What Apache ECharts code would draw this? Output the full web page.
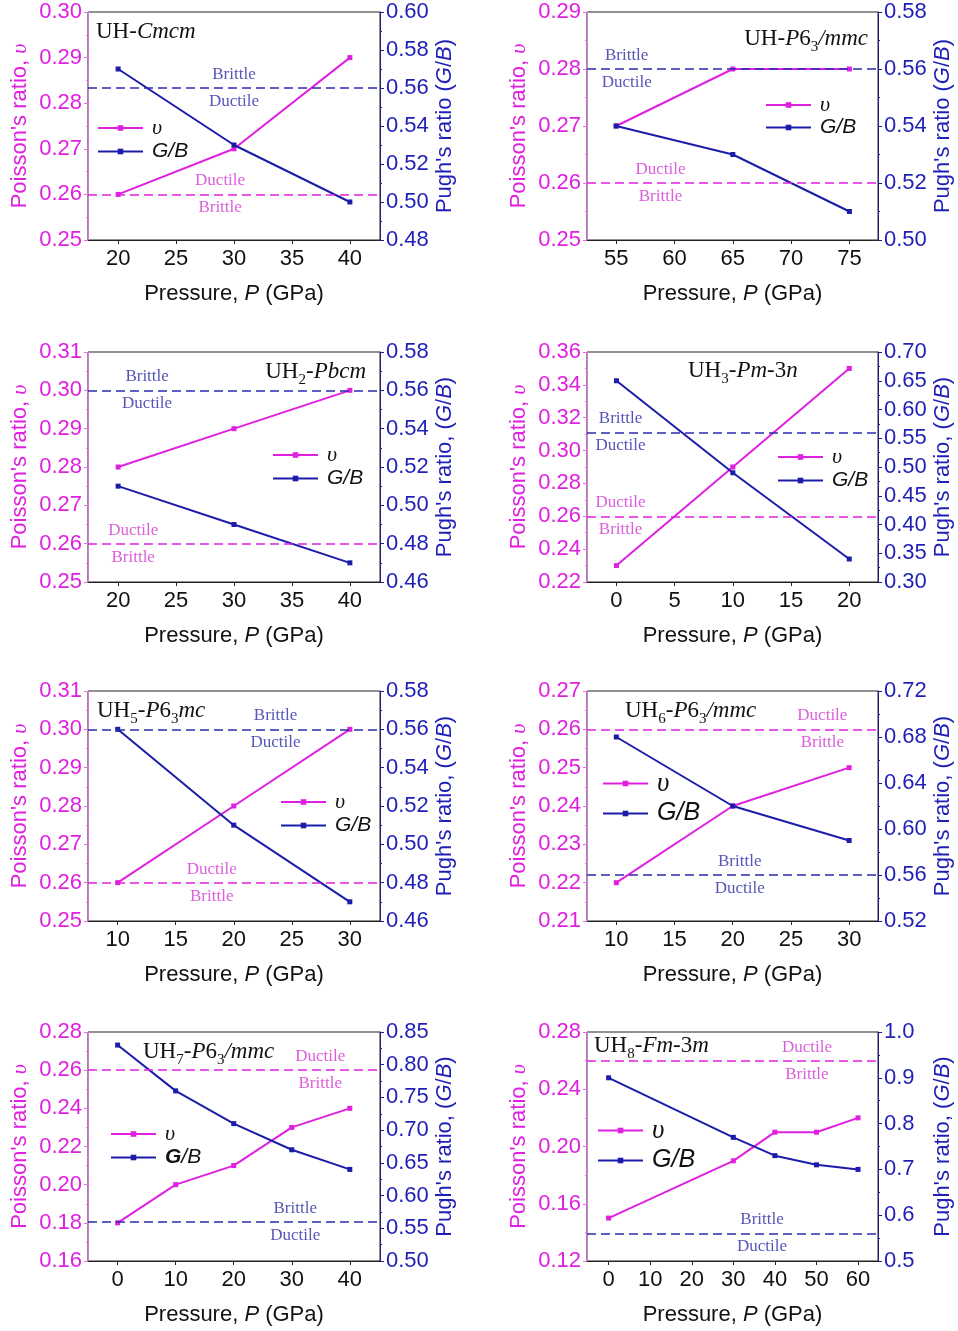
<!DOCTYPE html>
<html>
<head>
<meta charset="utf-8">
<script src="https://cdn.jsdelivr.net/npm/echarts@6/dist/echarts.min.js"></script>
<style>
  html, body { margin: 0; padding: 0; background: #fff; }
  #chart { width: 958px; height: 1331px; }
</style>
</head>
<body>
<div id="chart"></div>
<script>
// Pressure (GPa), Poisson's ratio and Pugh's ratio G/B for each U–H phase
const uhCmcmP = [20, 30, 40];
const uhCmcmNu = [0.26, 0.27, 0.29];
const uhCmcmGB = [0.57, 0.53, 0.50];

const uhP63mmcP = [55, 65, 75];
const uhP63mmcNu = [0.27, 0.28, 0.28];
const uhP63mmcGB = [0.54, 0.53, 0.51];

const uh2PbcmP = [20, 30, 40];
const uh2PbcmNu = [0.28, 0.29, 0.30];
const uh2PbcmGB = [0.51, 0.49, 0.47];

const uh3Pm3nP = [0, 10, 20];
const uh3Pm3nNu = [0.23, 0.29, 0.35];
const uh3Pm3nGB = [0.65, 0.49, 0.34];

const uh5P63mcP = [10, 20, 30];
const uh5P63mcNu = [0.26, 0.28, 0.30];
const uh5P63mcGB = [0.56, 0.51, 0.47];

const uh6P63mmcP = [10, 20, 30];
const uh6P63mmcNu = [0.22, 0.24, 0.25];
const uh6P63mmcGB = [0.68, 0.62, 0.59];

const uh7P63mmcP = [0, 10, 20, 30, 40];
const uh7P63mmcNu = [0.18, 0.20, 0.21, 0.23, 0.24];
const uh7P63mmcGB = [0.83, 0.76, 0.71, 0.67, 0.64];

const uh8Fm3mP = [0, 30, 40, 50, 60];
const uh8Fm3mNu = [0.15, 0.19, 0.21, 0.21, 0.22];
const uh8Fm3mGB = [0.90, 0.77, 0.73, 0.71, 0.70];

// Ductile / brittle criteria
const nuCritical = 0.26;
const gbCritical = 0.56;

// Pressure-axis tick labels
const ticks20to40 = [20, 25, 30, 35, 40];
const ticks55to75 = [55, 60, 65, 70, 75];
const ticks0to20 = [0, 5, 10, 15, 20];
const ticks10to30 = [10, 15, 20, 25, 30];
const ticks0to40 = [0, 10, 20, 30, 40];
const ticks0to60 = [0, 10, 20, 30, 40, 50, 60];

// Phase labels (rich text: r = roman, i = italic, s = subscript)
const phaseTitles = [
  '{r|UH-}{i|Cmcm}',
  '{r|UH-}{i|P}{r|6}{s|3}{i|/mmc}',
  '{r|UH}{s|2}{r|-}{i|Pbcm}',
  '{r|UH}{s|3}{r|-}{i|Pm}{r|-3}{i|n}',
  '{r|UH}{s|5}{r|-}{i|P}{r|6}{s|3}{i|mc}',
  '{r|UH}{s|6}{r|-}{i|P}{r|6}{s|3}{i|/mmc}',
  '{r|UH}{s|7}{r|-}{i|P}{r|6}{s|3}{i|/mmc}',
  '{r|UH}{s|8}{r|-}{i|Fm}{r|-3}{i|m}'
];

const PINK = '#e020e0';
const PINK_AXIS = '#e070e0';
const BLUE = '#1c1caa';
const BLUE_TEXT = '#1f1fb8';
const BLUE_AXIS = '#1e1e80';
const SANS = 'Liberation Sans';
const SERIF = 'Liberation Serif';

// Panel layout and axis settings
const panels = [
  { p: uhCmcmP, nu: uhCmcmNu, gb: uhCmcmGB, x: [17.4, 42.6], ticks: ticks20to40,
    nuAx: [0.25, 0.30, 0.01, 2], gbAx: [0.48, 0.60, 0.02, 2], comma: false,
    col: 0, row: 0, title: { left: 96, top: 23 }, legend: [97, 128, 24, 22],
    pinkX: 28.8, blueX: 30.0 },
  { p: uhP63mmcP, nu: uhP63mmcNu, gb: uhP63mmcGB, x: [52.5, 77.45], ticks: ticks55to75,
    nuAx: [0.25, 0.29, 0.01, 2], gbAx: [0.50, 0.58, 0.02, 2], comma: false,
    col: 1, row: 0, title: { right: 90, top: 30 }, legend: [765, 105, 23, 22],
    pinkX: 58.8, blueX: 55.9 },
  { p: uh2PbcmP, nu: uh2PbcmNu, gb: uh2PbcmGB, x: [17.4, 42.6], ticks: ticks20to40,
    nuAx: [0.25, 0.31, 0.01, 2], gbAx: [0.46, 0.58, 0.02, 2], comma: true,
    col: 0, row: 1, title: { right: 592, top: 363 }, legend: [272, 455, 24, 22],
    pinkX: 21.3, blueX: 22.5 },
  { p: uh3Pm3nP, nu: uh3Pm3nNu, gb: uh3Pm3nGB, x: [-2.53, 22.47], ticks: ticks0to20,
    nuAx: [0.22, 0.36, 0.02, 2], gbAx: [0.30, 0.70, 0.05, 2], comma: true,
    col: 1, row: 1, title: { left: 688, top: 362 }, legend: [777, 457, 24, 22],
    pinkX: 0.35, blueX: 0.35 },
  { p: uh5P63mcP, nu: uh5P63mcNu, gb: uh5P63mcGB, x: [7.44, 32.6], ticks: ticks10to30,
    nuAx: [0.25, 0.31, 0.01, 2], gbAx: [0.46, 0.58, 0.02, 2], comma: true,
    col: 0, row: 2, title: { left: 97, top: 702 }, legend: [280, 802, 24, 22],
    pinkX: 18.1, blueX: 23.6 },
  { p: uh6P63mmcP, nu: uh6P63mmcNu, gb: uh6P63mmcGB, x: [7.48, 32.48], ticks: ticks10to30,
    nuAx: [0.21, 0.27, 0.01, 2], gbAx: [0.52, 0.72, 0.04, 2], comma: true,
    col: 1, row: 2, title: { left: 625, top: 702 }, legend: [602, 783, 30, 26],
    pinkX: 27.7, blueX: 20.6 },
  { p: uh7P63mmcP, nu: uh7P63mmcNu, gb: uh7P63mmcGB, x: [-5.1, 45.2], ticks: ticks0to40,
    nuAx: [0.16, 0.28, 0.02, 2], gbAx: [0.50, 0.85, 0.05, 2], comma: true,
    col: 0, row: 3, title: { left: 143, top: 1043 }, legend: [110, 1134, 24, 22], boldG: true,
    pinkX: 34.9, blueX: 30.6 },
  { p: uh8Fm3mP, nu: uh8Fm3mNu, gb: uh8Fm3mGB, x: [-5.2, 64.8], ticks: ticks0to60,
    nuAx: [0.12, 0.28, 0.04, 2], gbAx: [0.5, 1.0, 0.1, 1], comma: true,
    col: 1, row: 3, title: { left: 594, top: 1037 }, legend: [597, 1130, 30, 26],
    pinkX: 47.7, blueX: 36.9 }
];

const colLeft = [88, 587];
const colWidth = [292, 291];
const rowTop = [12, 352, 691, 1032];
const rowHeight = [228, 230, 230, 229];

const zip = (xs, ys) => xs.map((x, k) => [x, ys[k]]);

const option = {
  animation: false,
  backgroundColor: '#fff',
  title: [], grid: [], xAxis: [], yAxis: [], legend: [], series: []
};

panels.forEach((pn, i) => {
  option.grid.push({
    left: colLeft[pn.col], width: colWidth[pn.col],
    top: rowTop[pn.row], height: rowHeight[pn.row],
    show: true, borderColor: '#222', borderWidth: 1, backgroundColor: 'transparent'
  });

  const titleTok = extra => Object.assign({
    fontFamily: SERIF, fontSize: 23, fontWeight: 'normal', lineHeight: 25, color: '#111',
    verticalAlign: 'bottom', padding: [0, 0, 5, 0]
  }, extra);
  option.title.push(Object.assign({
    text: phaseTitles[i], padding: 0,
    textStyle: {
      fontWeight: 'normal',
      rich: {
        r: titleTok({}),
        i: titleTok({ fontStyle: 'italic' }),
        s: { fontFamily: SERIF, fontSize: 15, fontWeight: 'normal', lineHeight: 15, color: '#111', verticalAlign: 'bottom' }
      }
    }
  }, pn.title));

  option.xAxis.push({
    type: 'value', gridIndex: i, min: pn.x[0], max: pn.x[1],
    axisLine: { show: true, onZero: false, lineStyle: { color: '#222', width: 1 } },
    axisTick: { show: true, inside: false, length: 4, customValues: pn.ticks, lineStyle: { color: '#222' } },
    axisLabel: { customValues: pn.ticks, margin: 8, color: '#111', fontSize: 22, fontFamily: SANS },
    splitLine: { show: false },
    name: '{a|Pressure, }{i|P}{a| (GPa)}',
    nameLocation: 'middle', nameGap: 43,
    nameTextStyle: {
      rich: {
        a: { fontFamily: SANS, fontSize: 22, color: '#111' },
        i: { fontFamily: SANS, fontSize: 22, color: '#111', fontStyle: 'italic' }
      }
    }
  });

  const yCommon = (ax, color, axisColor) => ({
    type: 'value', gridIndex: i, min: ax[0], max: ax[1], interval: ax[2],
    axisLine: { show: true, onZero: false, lineStyle: { color: axisColor, width: 1 } },
    axisTick: { show: true, inside: false, length: 4, lineStyle: { color: axisColor } },
    minorTick: { show: true, splitNumber: 2, length: 2, lineStyle: { color: axisColor } },
    axisLabel: { margin: 6, color: color, fontSize: 22, fontFamily: SANS, formatter: v => v.toFixed(ax[3]) },
    splitLine: { show: false },
    nameLocation: 'middle', nameRotate: 90
  });

  option.yAxis.push(Object.assign(yCommon(pn.nuAx, PINK, PINK_AXIS), {
    position: 'left', nameGap: 57,
    name: "{a|Poisson's ratio, }{u|υ}",
    nameTextStyle: {
      rich: {
        a: { fontFamily: SANS, fontSize: 22, color: PINK },
        u: { fontFamily: SERIF, fontSize: 22, color: PINK, fontStyle: 'italic' }
      }
    }
  }));
  option.yAxis.push(Object.assign(yCommon(pn.gbAx, BLUE_TEXT, BLUE_AXIS), {
    position: 'right', nameGap: 54,
    name: pn.comma ? "{a|Pugh's ratio, (}{i|G}{a|/}{i|B}{a|)}" : "{a|Pugh's ratio (}{i|G}{a|/}{i|B}{a|)}",
    nameTextStyle: {
      rich: {
        a: { fontFamily: SANS, fontSize: 22, color: BLUE_TEXT },
        i: { fontFamily: SANS, fontSize: 22, color: BLUE_TEXT, fontStyle: 'italic' }
      }
    }
  }));

  const lh = pn.legend[3];
  const big = lh > 24;
  const legendTok = extra => Object.assign({
    fontFamily: SANS, fontStyle: 'italic', fontSize: big ? 25 : 21, lineHeight: lh, color: '#111'
  }, extra);
  option.legend.push({
    left: pn.legend[0], top: pn.legend[1] - lh / 2,
    orient: 'vertical', padding: 0, itemGap: pn.legend[2] - lh,
    itemWidth: 45, itemHeight: 7, selectedMode: false,
    data: ['υ', 'G/B'],
    formatter: name => name === 'υ' ? '{u|υ}' : (pn.boldG ? '{gb|G}{g2|/B}' : '{g|G/B}'),
    textStyle: {
      rich: {
        u: legendTok({ fontFamily: SERIF, fontSize: big ? 27 : 22, padding: [0, 0, 0, 4] }),
        g: legendTok({ padding: [0, 0, 0, 4] }),
        gb: legendTok({ fontWeight: 'bold', padding: [0, 0, 0, 4] }),
        g2: legendTok({})
      }
    }
  });

  const dashed = color => ({ type: [9, 5], color: color, width: 1.5 });

  option.series.push({
    name: 'υ', type: 'line', xAxisIndex: i, yAxisIndex: 2 * i,
    data: zip(pn.p, pn.nu), symbol: 'rect', symbolSize: 5,
    itemStyle: { color: PINK }, lineStyle: { color: PINK, width: 2 },
    markLine: {
      silent: true, symbol: 'none', label: { show: false },
      lineStyle: dashed(PINK), data: [{ yAxis: nuCritical }]
    }
  });
  option.series.push({
    name: 'G/B', type: 'line', xAxisIndex: i, yAxisIndex: 2 * i + 1,
    data: zip(pn.p, pn.gb), symbol: 'rect', symbolSize: 5,
    itemStyle: { color: BLUE }, lineStyle: { color: BLUE, width: 2 },
    markLine: {
      silent: true, symbol: 'none', label: { show: false },
      lineStyle: dashed('#2a2ab0'), data: [{ yAxis: gbCritical }]
    }
  });

  // Regime labels either side of each criterion line
  const regimeLabel = (color, text) => ({
    show: true, position: 'inside', formatter: text, color: color,
    fontFamily: SERIF, fontSize: 17, lineHeight: 27
  });
  option.series.push({
    name: 'nu-regime', type: 'scatter', xAxisIndex: i, yAxisIndex: 2 * i,
    symbolSize: 1, itemStyle: { color: 'transparent' }, silent: true,
    data: [[pn.pinkX, nuCritical]], label: regimeLabel('#d236d2', 'Ductile\nBrittle')
  });
  option.series.push({
    name: 'gb-regime', type: 'scatter', xAxisIndex: i, yAxisIndex: 2 * i + 1,
    symbolSize: 1, itemStyle: { color: 'transparent' }, silent: true,
    data: [[pn.blueX, gbCritical]], label: regimeLabel('#2b2ba6', 'Brittle\nDuctile')
  });
});

const chart = echarts.init(document.getElementById('chart'), null, { renderer: 'canvas' });
chart.setOption(option);
</script>
</body>
</html>
